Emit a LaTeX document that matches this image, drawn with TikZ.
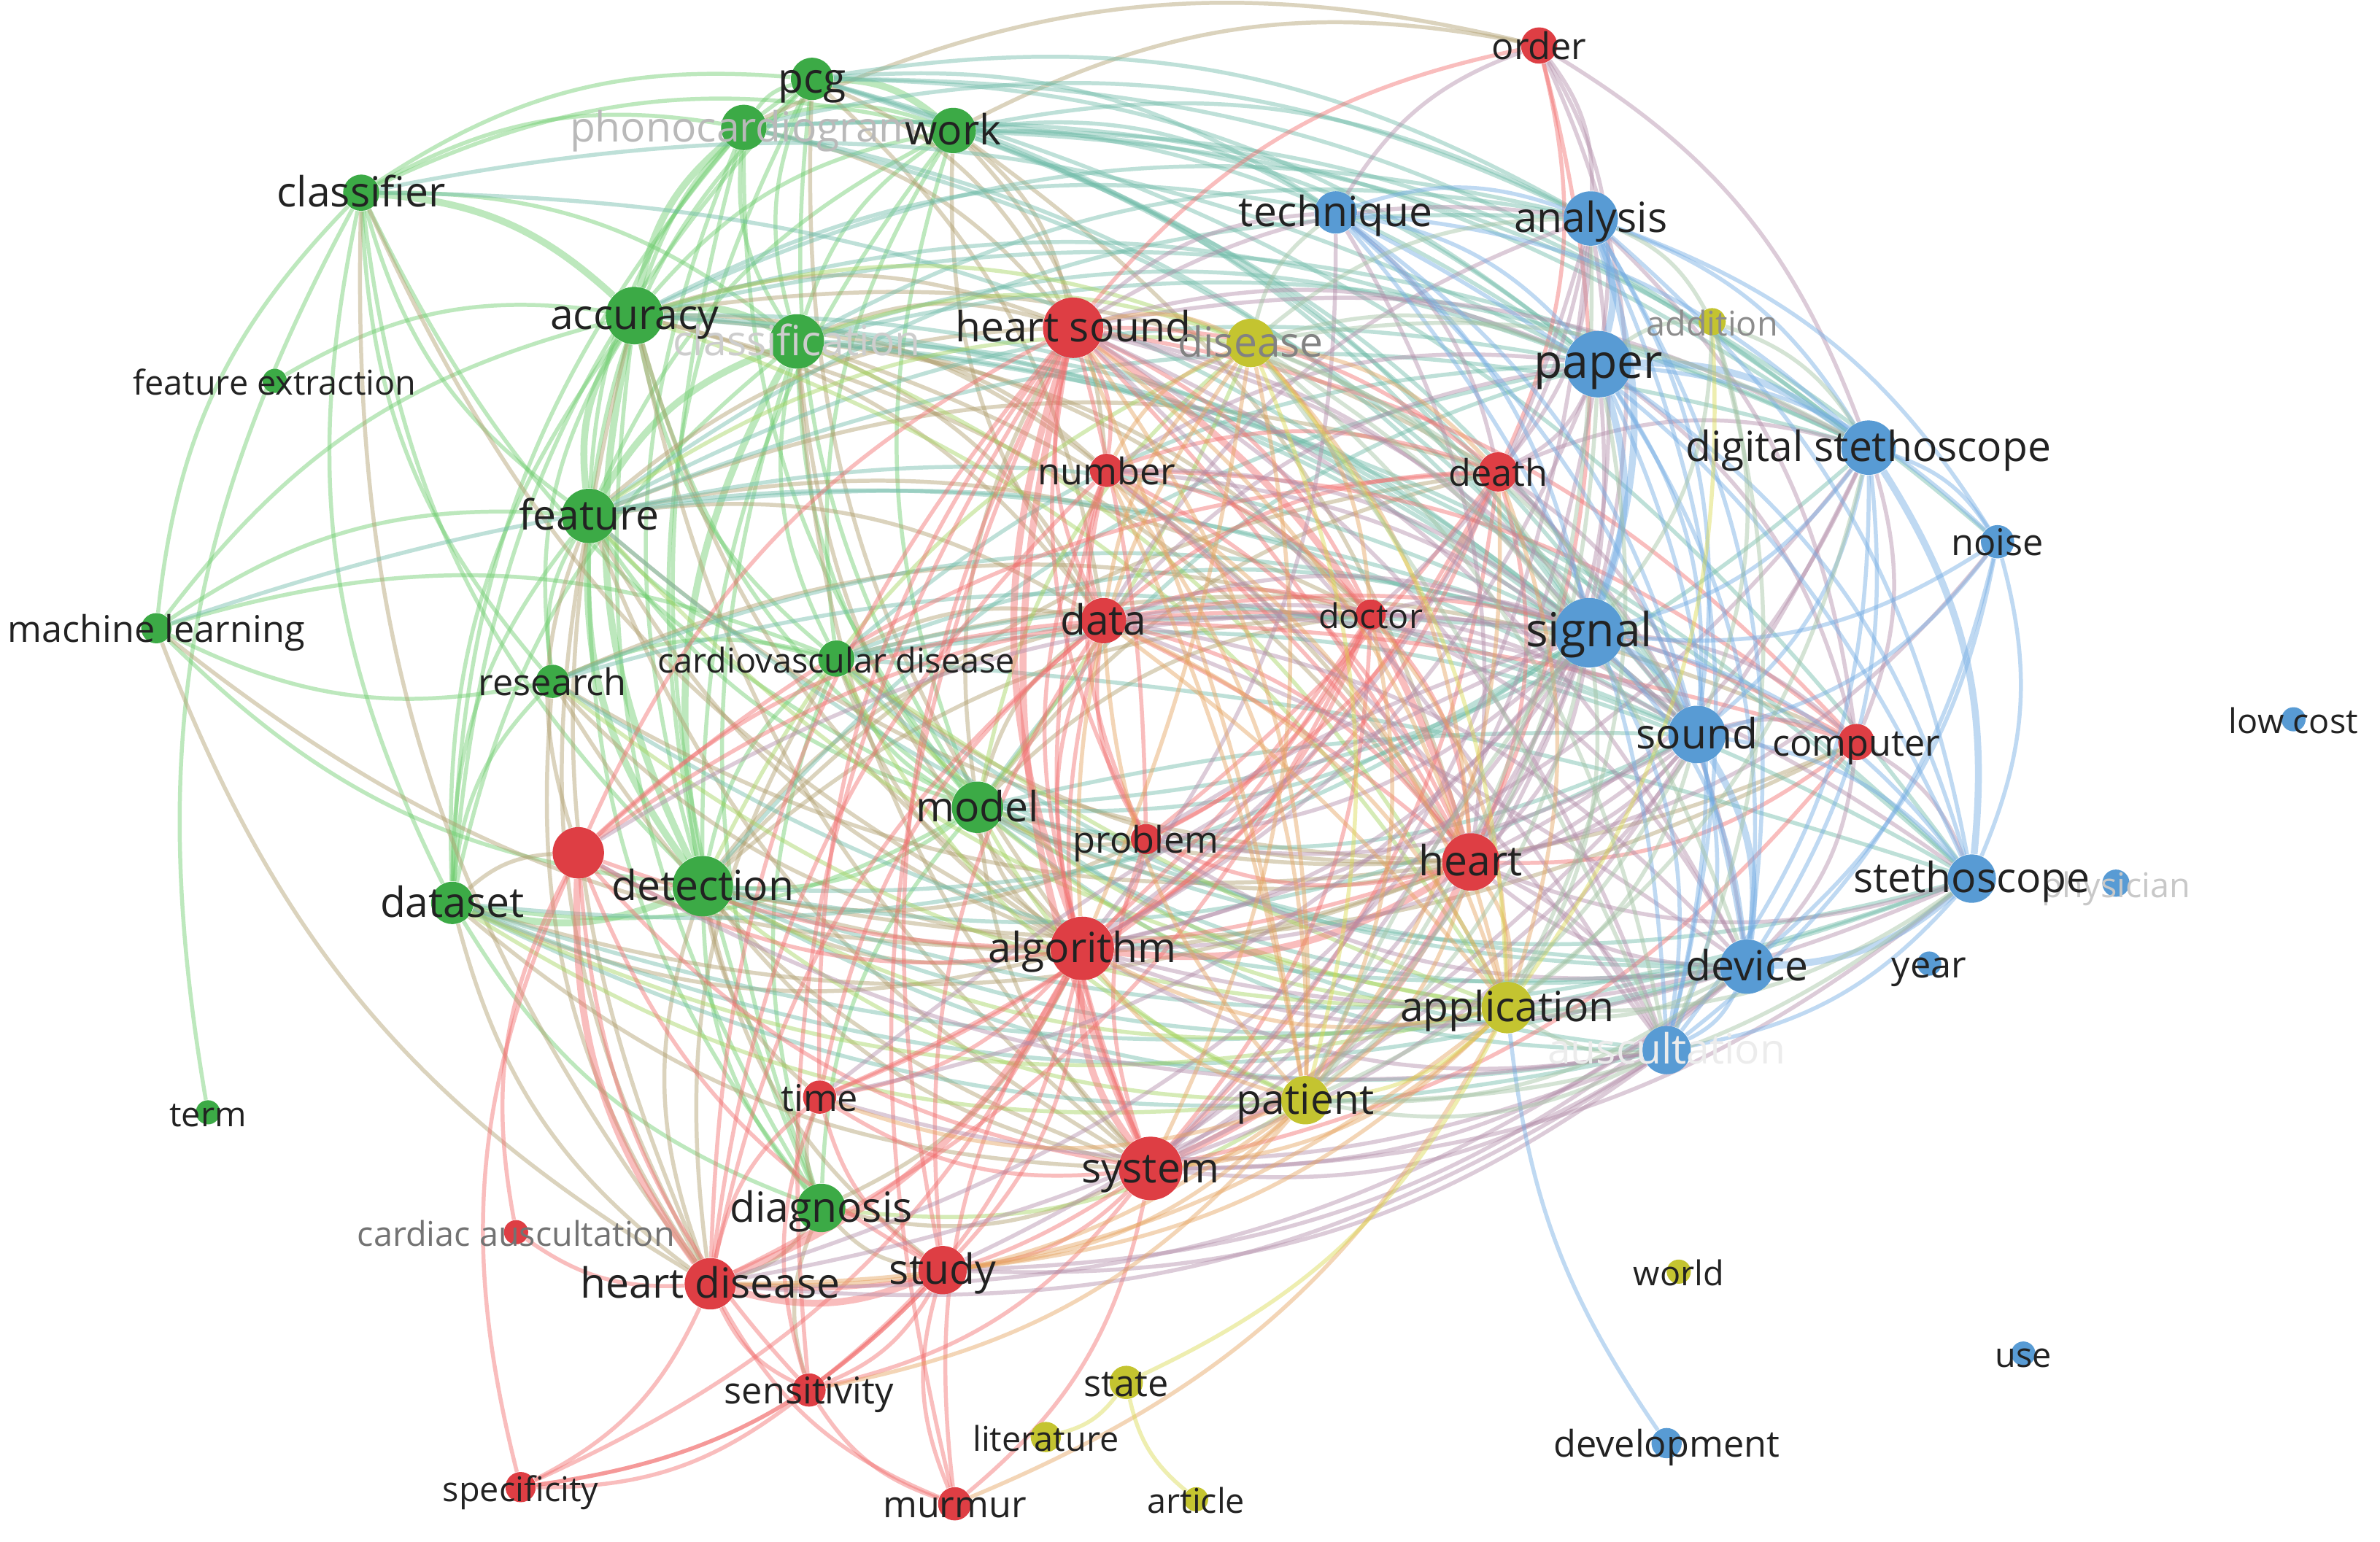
\documentclass[tikz,border=0pt]{standalone}
\usepackage{fontspec}
\setmainfont{Open Sans}
\usetikzlibrary{calc}
\pgfdeclarelayer{paperlayer}
\pgfdeclarelayer{bg}
\pgfdeclarelayer{fg}
\pgfsetlayers{paperlayer,bg,main,fg}
\definecolor{cG}{RGB}{60,170,70}
\definecolor{cR}{RGB}{222,62,68}
\definecolor{cB}{RGB}{88,155,212}
\definecolor{cY}{RGB}{196,196,48}
\definecolor{eG}{RGB}{110,205,110}
\definecolor{eR}{RGB}{242,110,110}
\definecolor{eB}{RGB}{115,172,228}
\definecolor{eY}{RGB}{218,218,80}
\definecolor{txt}{RGB}{34,34,34}
\colorlet{eGR}{eG!50!eR}
\colorlet{eGB}{eG!50!eB}
\colorlet{eRB}{eR!50!eB}
\colorlet{eRY}{eR!50!eY}
\colorlet{eYB}{eY!45!eB}
\colorlet{eGY}{eG!50!eY}
\tikzset{
  nd/.style={circle, inner sep=0pt, draw=none},
  rad/.style={minimum size=#1*1.134pt},
  nG/.style={nd, fill=cG},
  nR/.style={nd, fill=cR},
  nB/.style={nd, fill=cB},
  nY/.style={nd, fill=cY},
  lbl/.style={inner sep=0pt, text=txt, text height=1.5ex, text depth=0.35ex, yshift=-2.2pt},
  fH/.style={font=\fontsize{17.6}{18}\selectfont},
  fB/.style={font=\fontsize{15.6}{16}\selectfont},
  fM/.style={font=\fontsize{13.8}{14}\selectfont},
  fS/.style={font=\fontsize{12.8}{13}\selectfont},
  ed/.style={line width=1.5pt, draw opacity=0.45},
  edT/.style={line width=2.6pt, draw opacity=0.45},
}
\newcommand\drawedges[2]{%
  \foreach \a/\b in {#2}{%
    \draw[#1] let \p1=(\a), \p2=(\b), \p0=(ctr),
      \n1={((\x1-\x0)/100)*((\y2-\y0)/100)-((\y1-\y0)/100)*((\x2-\x0)/100)},
      \n2={(\n1<0)?19:-19} in (\a) to[bend left=\n2] (\b);
  }}
\newcommand\drawedgesflat[2]{%
  \foreach \a/\b in {#2}{%
    \draw[#1] (\a) to[bend left=7] (\b);
  }}
\begin{document}
\begin{tikzpicture}[x=0.02cm,y=-0.02cm]
\begin{pgfonlayer}{paperlayer}
\fill[white] (0,0) rectangle (1568,1016);
\end{pgfonlayer}
\useasboundingbox (0,0) rectangle (1568,1016);
\coordinate (ctr) at (760,480);
% green nodes
\node[nG,rad=14] (pcg) at (535,52) {};
\node[nG,rad=15] (phono) at (490,84) {};
\node[nG,rad=15] (work) at (628,86) {};
\node[nG,rad=12] (clsf) at (238,127) {};
\node[nG,rad=19] (acc) at (418,208) {};
\node[nG,rad=18] (clsn) at (525,225) {};
\node[nG,rad=8] (fext) at (181,251) {};
\node[nG,rad=18] (feat) at (388,340) {};
\node[nG,rad=10] (ml) at (103,414) {};
\node[nG,rad=11] (res) at (364,449) {};
\node[nG,rad=12] (cvd) at (551,434) {};
\node[nG,rad=17] (model) at (644,532) {};
\node[nG,rad=14] (dset) at (298,595) {};
\node[nG,rad=20] (det) at (463,584) {};
\node[nG,rad=8] (term) at (137,733) {};
\node[nG,rad=16] (diag) at (541,796) {};
% red nodes
\node[nR,rad=12] (order) at (1014,30) {};
\node[nR,rad=20] (hs) at (707,216) {};
\node[nR,rad=11] (num) at (729,310) {};
\node[nR,rad=13] (death) at (987,311) {};
\node[nR,rad=15] (data) at (727,409) {};
\node[nR,rad=10] (doc) at (903,405) {};
\node[nR,rad=12] (comp) at (1223,489) {};
\node[nR,rad=17] (rx) at (381,562) {};
\node[nR,rad=10] (prob) at (755,553) {};
\node[nR,rad=19] (heart) at (969,568) {};
\node[nR,rad=21] (alg) at (713,625) {};
\node[nR,rad=11] (time) at (540,723) {};
\node[nR,rad=21] (sys) at (758,770) {};
\node[nR,rad=8] (cauc) at (340,812) {};
\node[nR,rad=17] (hd) at (468,846) {};
\node[nR,rad=16] (study) at (621,837) {};
\node[nR,rad=11] (sens) at (533,916) {};
\node[nR,rad=10] (spec) at (343,980) {};
\node[nR,rad=11] (murm) at (629,991) {};
% blue nodes
\node[nB,rad=14] (tech) at (880,140) {};
\node[nB,rad=18] (anal) at (1048,144) {};
\node[nB,rad=22] (paper) at (1053,240) {};
\node[nB,rad=18] (dst) at (1231,295) {};
\node[nB,rad=11] (noise) at (1316,357) {};
\node[nB,rad=23] (sig) at (1047,417) {};
\node[nB,rad=19] (sound) at (1118,484) {};
\node[nB,rad=8] (lowc) at (1511,474) {};
\node[nB,rad=16] (steth) at (1299,579) {};
\node[nB,rad=9] (phys) at (1394,582) {};
\node[nB,rad=18] (dev) at (1151,637) {};
\node[nB,rad=8] (year) at (1271,635) {};
\node[nB,rad=16] (ausc) at (1098,692) {};
\node[nB,rad=10] (devel) at (1098,951) {};
\node[nB,rad=8] (use) at (1333,892) {};
% yellow nodes
\node[nY,rad=16] (dis) at (824,226) {};
\node[nY,rad=9] (addn) at (1128,212) {};
\node[nY,rad=17] (app) at (993,664) {};
\node[nY,rad=16] (pat) at (860,725) {};
\node[nY,rad=8] (world) at (1106,838) {};
\node[nY,rad=11] (state) at (742,911) {};
\node[nY,rad=10] (lit) at (689,947) {};
\node[nY,rad=8] (art) at (788,988) {};

\begin{pgfonlayer}{bg}
% green-green
\drawedges{ed,eG}{clsf/phono, clsf/pcg, clsf/work, clsf/clsn, clsf/feat, clsf/ml, clsf/dset, clsf/term, clsf/det, clsf/model, clsf/res,
 acc/pcg, acc/work, acc/fext, acc/ml, acc/dset, acc/model, acc/cvd, acc/diag, acc/res,
 pcg/phono, pcg/clsn, pcg/feat, pcg/det, pcg/model, pcg/dset,
 phono/work, phono/clsn, phono/feat, phono/det, phono/model, phono/dset, phono/diag,
 work/clsn, work/feat, work/det, work/model, work/cvd,
 clsn/model, clsn/dset, clsn/diag, clsn/cvd,
 feat/ml, feat/res, feat/dset, feat/model, feat/cvd, feat/diag,
 ml/res, ml/cvd, ml/det, dset/model, dset/diag, dset/res,
 det/model, det/diag, det/cvd, model/diag, model/cvd, cvd/diag, cvd/res}
\drawedges{edT,eG}{clsf/acc, acc/feat, acc/det, pcg/work, acc/clsn, feat/det, det/dset, phono/acc, clsn/det, clsn/feat}
% green-red
\drawedges{ed,eGR}{acc/hs, acc/alg, acc/sys, feat/alg, feat/hd, det/hd, det/alg, det/sys, model/alg, model/sys, model/heart,
 dset/hd, dset/rx, diag/hd, diag/study, diag/sys, diag/sens, clsn/hs, pcg/hs, work/hs, work/data, cvd/hd, cvd/heart,
 det/study, model/hs, dset/sys, feat/rx, res/hd, diag/alg, det/rx, ml/alg, diag/time, model/data, clsn/alg, feat/hs,
 det/heart, dset/alg, work/order, phono/order, acc/data, clsn/sys,
 acc/heart, feat/heart, res/heart, cvd/data, cvd/alg, feat/data, acc/num, clsn/num, clsn/data, work/num, pcg/data,
 det/data, det/prob, model/prob, dset/heart, det/time, feat/sys, res/sys, res/alg, ml/hd, clsf/hd, clsf/alg, acc/hd,
 clsn/heart, work/heart, phono/hs, pcg/alg,
 doc/det, doc/model, death/model, death/det, cvd/comp, model/comp, det/comp, feat/death, acc/death, acc/doc,
 clsn/doc, feat/doc, res/doc}
% green-blue
\drawedges{ed,eGB}{pcg/anal, pcg/paper, pcg/dst, pcg/tech, pcg/sig, phono/anal, phono/paper, phono/sig, phono/dst,
 work/tech, work/anal, work/paper, work/dst, work/sig, acc/sig, acc/paper, acc/anal, clsn/sig, clsn/anal, feat/sig,
 model/sig, det/sig, det/dev, dset/dev, model/sound, feat/paper, model/ausc, det/sound, pcg/steth, work/noise, acc/tech, clsn/paper,
 cvd/sig, res/sig, dset/sig, acc/sound, feat/sound, cvd/sound, cvd/dev, model/dev, model/steth, res/sound, feat/dst,
 clsn/dst, acc/dst, det/ausc, dset/ausc, ml/sig, clsf/sig, clsn/sound, work/sound, pcg/sound, phono/sound, feat/anal,
 cvd/paper, model/paper, model/dst, det/paper, clsf/paper, cvd/ausc,
 cvd/steth, res/dev, feat/dev, acc/steth, clsn/steth, det/steth, dset/steth}
\drawedgesflat{ed,eGB}{cvd/sig, model/sound, cvd/steth}
% green-yellow
\drawedges{ed,eGY}{app/det, app/model, pat/diag, dis/acc, app/feat, pat/det, dis/clsn, dset/app,
 dis/feat, dis/det, dis/model, pat/model, app/acc, app/clsn, pat/dset, app/cvd, pat/cvd, app/res}
\drawedgesflat{ed,eGY}{dis/model, app/cvd}
% red-red
\drawedges{ed,eR}{hs/num, hs/data, hs/death, hs/order, hs/rx, hs/hd, hs/study, hs/prob, hs/comp, hs/time, hs/doc,
 data/alg, data/sys, data/heart, data/hd, num/alg, num/data, alg/study, alg/rx, alg/time, alg/prob, alg/sens, alg/spec,
 sys/hd, sys/study, sys/time, sys/sens, sys/murm, hd/sens, hd/spec, hd/murm, hd/time, hd/cauc,
 rx/sens, rx/spec, rx/study, rx/cauc, study/sens, study/murm, study/spec, sens/spec, sens/murm,
 heart/death, heart/comp, heart/doc, order/heart, order/death, death/sys, doc/sys, comp/sys, prob/sys, prob/heart,
 time/study, num/heart, data/study, rx/sys, rx/heart, rx/data, spec/study, murm/alg, num/sys, doc/hd, time/sens,
 data/prob, num/prob, num/doc, doc/data, death/data, death/num, hs/murm, hs/sens, data/time, num/hd, death/alg, doc/alg,
 doc/prob, doc/time, data/comp, num/comp, death/prob, death/time, death/rx, doc/rx}
\drawedgesflat{ed,eR}{hs/heart, data/heart, num/heart, death/prob, doc/alg, data/comp, hs/prob}
\drawedges{edT,eR}{hs/alg, hs/heart, alg/sys, alg/heart, sys/heart, hd/study, hs/sys, alg/hd, rx/hd}
% red-blue
\drawedges{ed,eRB}{heart/sig, heart/sound, heart/dev, heart/steth, heart/ausc, heart/anal, heart/paper, heart/dst,
 hs/anal, hs/paper, hs/sig, hs/tech, hs/dst, order/anal, order/paper, order/tech, alg/sig, alg/ausc, alg/dev,
 sys/ausc, sys/dev, sys/steth, hd/ausc, study/ausc, death/sig, death/paper, comp/sound, comp/dst, comp/sig,
 data/sig, doc/sig, prob/sig, alg/paper, sys/sound, death/anal, comp/anal, order/sig, num/sig, hd/dev, time/ausc,
 hs/sound, hs/dev, hs/ausc, num/sound, data/dev, data/sound, data/steth, death/sound, death/dev, doc/sound, doc/dev,
 alg/sound, alg/steth, sys/sig, study/sig, study/dev, hd/sig, hd/sound, time/sig, rx/sig, rx/ausc, prob/sound, prob/dev,
 num/paper, data/paper, data/anal, doc/anal, heart/tech, alg/tech, alg/anal, sys/anal, sys/paper, sys/dst, order/dst,
 comp/steth, comp/dev, comp/paper, heart/noise, alg/dst, death/dst, death/tech}
\drawedgesflat{ed,eRB}{num/ausc, data/dev, prob/sig, hs/ausc, time/sig}
% blue-blue
\drawedges{ed,eB}{tech/anal, tech/paper, tech/sig, tech/dst, tech/sound, anal/dst, anal/sound, anal/noise, anal/steth,
 anal/dev, anal/ausc, paper/sound, paper/dev, paper/steth, paper/noise, dst/sig, dst/sound, dst/noise, dst/dev, dst/ausc,
 sig/dev, sig/steth, sig/ausc, sig/noise, sound/steth, sound/ausc, steth/ausc, dev/ausc, noise/sound, noise/ausc, tech/dev,
 tech/steth, tech/ausc, paper/ausc, noise/steth, noise/dev}
\drawedges{edT,eB}{anal/paper, paper/sig, sig/sound, dst/paper, dst/steth, sound/dev, steth/dev, anal/sig}
\draw[ed,eB] (devel) to[bend left=14] (app);
% yellow
\drawedges{ed,eRY}{dis/hs, dis/alg, dis/heart, dis/sys, dis/data, pat/heart, pat/sys, pat/alg, pat/hs, app/heart,
 app/alg, app/sys, app/hd, pat/data, app/hs, pat/hd, app/study, pat/study, dis/num,
 num/app, data/app, doc/app, death/app, death/pat, time/pat, murm/app, sens/pat, dis/doc, dis/death, doc/pat, num/pat}
\drawedgesflat{ed,eRY}{hs/pat, data/app, dis/alg, num/pat}
\drawedges{ed,eY}{dis/app, dis/pat, app/pat, state/lit, state/art, state/app, addn/app}
\drawedges{ed,eYB}{addn/paper, addn/sig, addn/anal, app/sig, app/sound, app/dev, app/ausc, app/steth, app/dst,
 pat/ausc, pat/dev, pat/sig, dis/sig, dis/anal, dis/paper, pat/sound, app/paper, addn/dst,
 dis/dev, dis/ausc, dis/sound, dis/dst, dis/tech, addn/sound, addn/ausc, pat/paper, pat/steth, pat/anal}
\drawedgesflat{ed,eYB}{dis/ausc, pat/sig}
\end{pgfonlayer}

\begin{pgfonlayer}{fg}
% green labels
\node[lbl,fB] (Lpcg) at (pcg) {pcg};
\node[lbl,fB,text={rgb,255:red,185;green,185;blue,185}] (Lphono) at (phono) {phonocardiogram};
\node[lbl,fB] (Lwork) at (work) {work};
\node[lbl,fB] (Lclsf) at (clsf) {classifier};
\node[lbl,fB,text={rgb,255:red,205;green,205;blue,205}] (Lclsn) at (clsn) {classification};
\node[lbl,fB] (Lacc) at (acc) {accuracy};
\node[lbl,fS] (Lfext) at (fext) {feature extraction};
\node[lbl,fB] (Lfeat) at (feat) {feature};
\node[lbl,fM] (Lml) at (ml) {machine learning};
\node[lbl,fM] (Lres) at (res) {research};
\node[lbl,fS] (Lcvd) at (cvd) {cardiovascular disease};
\node[lbl,fB] (Lmodel) at (model) {model};
\node[lbl,fB] (Ldset) at (dset) {dataset};
\node[lbl,fB] (Ldet) at (det) {detection};
\node[lbl,fS] (Lterm) at (term) {term};
\node[lbl,fB] (Ldiag) at (diag) {diagnosis};
% red labels
\node[lbl,fM] (Lorder) at (order) {order};
\node[lbl,fB] (Lhs) at (hs) {heart sound};
\node[lbl,fM] (Lnum) at (num) {number};
\node[lbl,fM] (Ldeath) at (death) {death};
\node[lbl,fB] (Ldata) at (data) {data};
\node[lbl,fS] (Ldoc) at (doc) {doctor};
\node[lbl,fM] (Lcomp) at (comp) {computer};
\node[lbl,fM] (Lprob) at (prob) {problem};
\node[lbl,fB] (Lheart) at (heart) {heart};
\node[lbl,fB] (Lalg) at (alg) {algorithm};
\node[lbl,fM] (Ltime) at (time) {time};
\node[lbl,fB] (Lsys) at (sys) {system};
\node[lbl,fS,text={rgb,255:red,115;green,115;blue,115}] (Lcauc) at (cauc) {cardiac auscultation};
\node[lbl,fB] (Lhd) at (hd) {heart disease};
\node[lbl,fB] (Lstudy) at (study) {study};
\node[lbl,fM] (Lsens) at (sens) {sensitivity};
\node[lbl,fS] (Lspec) at (spec) {specificity};
\node[lbl,fM] (Lmurm) at (murm) {murmur};
% blue labels
\node[lbl,fB] (Ltech) at (tech) {technique};
\node[lbl,fB] (Lanal) at (anal) {analysis};
\node[lbl,fH] (Lpaper) at (paper) {paper};
\node[lbl,fB] (Ldst) at (dst) {digital stethoscope};
\node[lbl,fM] (Lnoise) at (noise) {noise};
\node[lbl,fH] (Lsig) at (sig) {signal};
\node[lbl,fB] (Lsound) at (sound) {sound};
\node[lbl,fS] (Llowc) at (lowc) {low cost};
\node[lbl,fS,text={rgb,255:red,200;green,200;blue,200}] (Lphys) at (phys) {physician};
\node[lbl,fB] (Lsteth) at (steth) {stethoscope};
\node[lbl,fB] (Ldev) at (dev) {device};
\node[lbl,fM] (Lyear) at (year) {year};
\node[lbl,fB,text={rgb,255:red,236;green,236;blue,236}] (Lausc) at (ausc) {auscultation};
\node[lbl,fM] (Ldevel) at (devel) {development};
\node[lbl,fS] (Luse) at (use) {use};
% yellow labels
\node[lbl,fB,text={rgb,255:red,130;green,130;blue,130}] (Ldis) at (dis) {disease};
\node[lbl,fS,text={rgb,255:red,140;green,140;blue,140}] (Laddn) at (addn) {addition};
\node[lbl,fB] (Lapp) at (app) {application};
\node[lbl,fB] (Lpat) at (pat) {patient};
\node[lbl,fS] (Lworld) at (world) {world};
\node[lbl,fM] (Lstate) at (state) {state};
\node[lbl,fS] (Llit) at (lit) {literature};
\node[lbl,fS] (Lart) at (art) {article};
\end{pgfonlayer}
\end{tikzpicture}
\end{document}
